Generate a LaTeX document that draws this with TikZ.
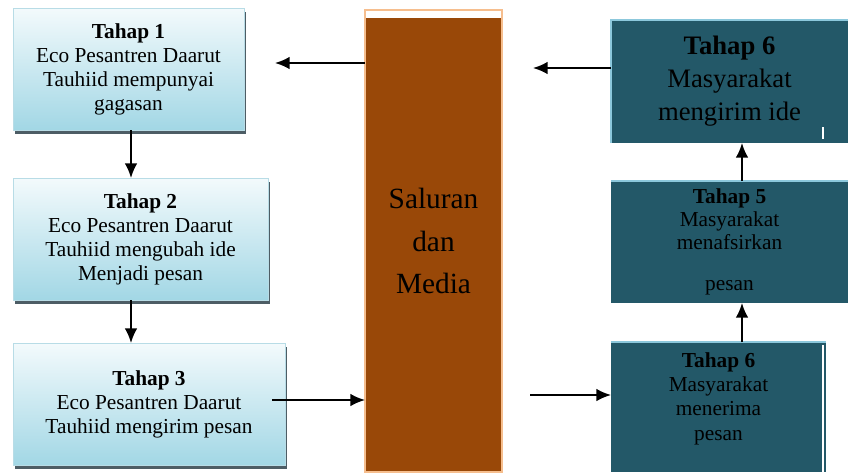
\documentclass[tikz,border=0pt]{standalone}
\usepackage{fontspec}
\setmainfont{Liberation Serif}
\usetikzlibrary{arrows.meta,shadows}

\definecolor{lbtop}{HTML}{F3FAFC}
\definecolor{lbbot}{HTML}{A2D7E5}
\definecolor{lbedge}{HTML}{B8DCE6}
\definecolor{lbshadow}{HTML}{3A4C55}
\definecolor{teal}{HTML}{235868}
\definecolor{tealedge}{HTML}{8CC8DC}
\definecolor{brown}{HTML}{994808}
\definecolor{peach}{HTML}{F6BE8E}

\begin{document}
\begin{tikzpicture}[x=0.75pt,y=-0.75pt,
  lightbox/.style={draw=lbedge,thin,top color=lbtop,bottom color=lbbot,
    inner sep=0pt,outer sep=0pt,minimum height=91.5pt,align=center,
    font=\fontsize{16}{18}\selectfont,
    drop shadow={shadow xshift=1.8pt,shadow yshift=-3pt,fill=lbshadow,opacity=.9}},
  darkbox/.style={fill=teal,inner sep=0pt,outer sep=0pt,minimum width=177.75pt,align=center},
  arr/.style={-{Latex[length=11pt,width=9.5pt]},line width=1.4pt,black},
  tealline/.style={tealedge,line width=1.5pt}]

\fill[white] (0,0) rectangle (848,472);
\useasboundingbox (0,0) rectangle (848,472);

% left column
\node[lightbox,minimum width=173.25pt] (s1) at (128.5,69)
  {\textbf{Tahap 1}\\Eco Pesantren Daarut\\Tauhiid mempunyai\\gagasan};
\node[lightbox,minimum width=191.25pt] (s2) at (140.5,239)
  {\textbf{Tahap 2}\\Eco Pesantren Daarut\\Tauhiid mengubah ide\\Menjadi pesan};
\node[lightbox,minimum width=204pt] (s3) at (149,404)
  {\textbf{Tahap 3}\\Eco Pesantren Daarut\\Tauhiid mengirim pesan};

% channel
\node[fill=brown,draw=peach,line width=1.2pt,inner sep=0pt,outer sep=0pt,
  minimum width=102.75pt,minimum height=346.5pt,align=center,
  font=\fontsize{22}{32}\selectfont,
  path picture={\fill[white] (path picture bounding box.north west)
    rectangle ([yshift=-6pt]path picture bounding box.north east);}]
  (mid) at (433.5,241) {Saluran\\dan\\Media};

% right column
\node[darkbox,minimum height=92.25pt,font=\fontsize{20}{24.75}\selectfont] (s6t) at (729.5,81.5)
  {\textbf{Tahap 6}\\Masyarakat\\mengirim ide};
\node[darkbox,minimum height=91.5pt,font=\fontsize{16}{17.25}\selectfont] (s5) at (729.5,242)
  {\textbf{Tahap 5}\\Masyarakat\\menafsirkan\\[14pt]pesan};
\node[darkbox,minimum width=161.25pt,minimum height=97.5pt] (s6b) at (718.5,407) {};
\node[align=center,inner sep=0pt,font=\fontsize{16}{18.25}\selectfont] (s6btxt) at (718.5,398.5)
  {\textbf{Tahap 6}\\Masyarakat\\menerima\\pesan};

\draw[tealline] (s6t.south west) -- (s6t.north west) -- (s6t.north east);
\draw[tealline] (s5.north west) -- (s5.north east);
\draw[tealline] (s6b.north west) -- (s6b.north east);
\draw[white,line width=1.2pt] (823,345) -- (823,472);
\draw[white,line width=1pt] (823,127) -- (823,139);

% connectors
\coordinate (c1) at (275,63);
\coordinate (c2) at (533,68);
\coordinate (c3) at (272,400);
\coordinate (c4) at (530,395);
\coordinate (vl) at (131,0);
\coordinate (vr) at (742,0);

\draw[arr] (mid.west |- c1) -- (c1);
\draw[arr] (s6t.west |- c2) -- (c2);
\draw[arr] (c3) -- (mid.west |- c3);
\draw[arr] (c4) -- (s6b.west |- c4);
\draw[arr] (s1.south -| vl) -- (s2.north -| vl);
\draw[arr] (s2.south -| vl) -- (s3.north -| vl);
\draw[arr] (s6b.north -| vr) -- (s5.south -| vr);
\draw[arr] (s5.north -| vr) -- (s6t.south -| vr);
\end{tikzpicture}
\end{document}
